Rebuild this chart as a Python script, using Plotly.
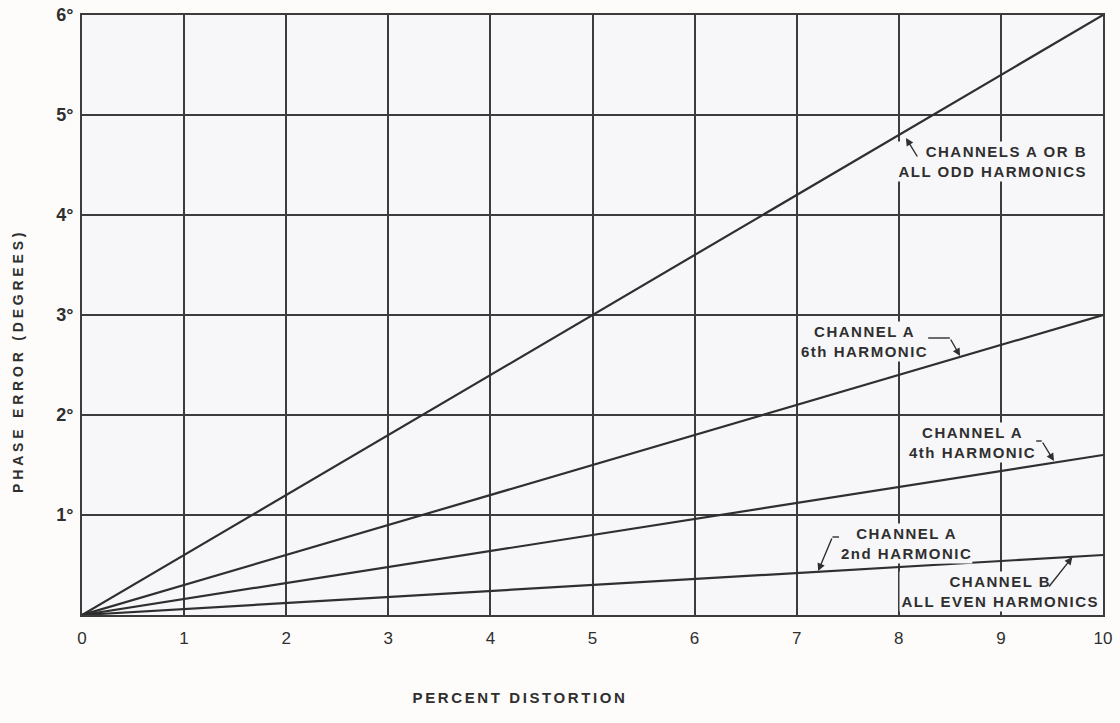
import json
import plotly.graph_objects as go

# Percent distortion (x) and phase error in degrees (y), straight lines from the origin
distortion = [0, 10]
odd_harmonics = [0, 6.0]      # channels A or B, all odd harmonics
ch_a_6th = [0, 3.0]           # channel A, 6th harmonic
ch_a_4th = [0, 1.6]           # channel A, 4th harmonic
ch_a_2nd_b_even = [0, 0.6]    # channel A 2nd harmonic / channel B all even harmonics

x_ticks = list(range(0, 11))
y_ticks = [1, 2, 3, 4, 5, 6]
y_tick_text = ["1°", "2°", "3°", "4°", "5°", "6°"]

INK = "#2f2f2f"
GRID = "#3c3c3c"
PLOT_BG = "#f7f7f9"
PAPER_BG = "#fdfcfa"
FONT = "Liberation Sans, Arial, sans-serif"

fig = go.Figure()
for ys in (odd_harmonics, ch_a_6th, ch_a_4th, ch_a_2nd_b_even):
    fig.add_trace(go.Scatter(x=distortion, y=ys, mode="lines",
                             line=dict(color=INK, width=2.2),
                             hoverinfo="skip", showlegend=False))

label_font = dict(family=FONT, size=15, color=INK, weight="bold")

# text labels (x, y in data units, anchor, alignment)
labels = [
    ("CHANNELS A OR B<br>ALL ODD HARMONICS", 9.86, 4.54, "right", "right"),
    ("CHANNEL A<br>6th HARMONIC", 7.66, 2.74, "center", "center"),
    ("CHANNEL A<br>4th HARMONIC", 8.72, 1.73, "center", "center"),
    ("CHANNEL A<br>2nd HARMONIC", 8.08, 0.72, "center", "center"),
    ("CHANNEL B<br>ALL EVEN HARMONICS", 9.0, 0.24, "center", "center"),
]
for text, x, y, xanchor, align in labels:
    fig.add_annotation(x=x, y=y, text=text, showarrow=False, xanchor=xanchor,
                       yanchor="middle", align=align, font=label_font,
                       bgcolor=PLOT_BG, borderpad=1)

# leader arrows: tail (ax, ay) -> head (x, y) on the curve
leaders = [
    (8.19, 4.57, 8.07, 4.77),
    (8.50, 2.77, 8.60, 2.59),
    (9.40, 1.74, 9.52, 1.54),
    (7.35, 0.78, 7.21, 0.44),
    (9.46, 0.27, 9.70, 0.58),
]
for ax, ay, x, y in leaders:
    fig.add_annotation(x=x, y=y, ax=ax, ay=ay, axref="x", ayref="y", text="",
                       showarrow=True, arrowhead=2, arrowsize=1.1, arrowwidth=1.4,
                       arrowcolor=INK, standoff=0, startstandoff=0)

# short horizontal runs of the bent leaders
for x0, x1, y in [(8.24, 8.50, 2.77), (9.27, 9.40, 1.74), (7.35, 7.58, 0.78)]:
    fig.add_shape(type="line", x0=x0, x1=x1, y0=y, y1=y,
                  line=dict(color=INK, width=1.4))

# axis titles
fig.add_annotation(text="PHASE ERROR (DEGREES)", xref="paper", yref="paper",
                   x=-0.0627, y=0.4233, textangle=-90, showarrow=False,
                   xanchor="center", yanchor="middle",
                   font=dict(family=FONT, size=14, color=INK, weight="bold"))
fig.add_annotation(text="PERCENT DISTORTION", xref="paper", yref="paper",
                   x=0.429, y=-0.138, showarrow=False,
                   xanchor="center", yanchor="middle",
                   font=dict(family=FONT, size=15, color=INK, weight="bold"))

fig.update_xaxes(range=[0, 10], tickvals=x_ticks, showgrid=True, gridcolor=GRID,
                 gridwidth=2, zeroline=False, showline=True, mirror=True,
                 linecolor=GRID, linewidth=2, ticks="", ticklabelstandoff=7,
                 automargin=False,
                 tickfont=dict(family=FONT, size=17, color=INK))
fig.update_yaxes(range=[0, 6], tickvals=y_ticks, ticktext=y_tick_text,
                 showgrid=True, gridcolor=GRID, gridwidth=2, zeroline=False,
                 showline=True, mirror=True, linecolor=GRID, linewidth=2,
                 ticks="", ticklabelstandoff=3, automargin=False,
                 tickfont=dict(family=FONT, size=18, color=INK, weight="bold"))

fig.update_layout(width=1120, height=723, autosize=False,
                  margin=dict(l=82, r=17, t=15, b=108, autoexpand=False),
                  plot_bgcolor=PLOT_BG, paper_bgcolor=PAPER_BG,
                  showlegend=False)

# widen the tracking of the lettering and refit the label backgrounds
spacing = {"PHASE ERROR (DEGREES)": 3.8, "PERCENT DISTORTION": 2.6}
post = """
var spacing = %s;
document.querySelectorAll('g.annotation').forEach(function(g){
  var t = g.querySelector('text.annotation-text');
  if(!t || !t.textContent) return;
  var key = t.getAttribute('data-unformatted') || '';
  var ls = (key in spacing) ? spacing[key] : 1.5;
  t.style.letterSpacing = ls + 'px';
  var r = g.querySelector('rect.bg');
  if(r){
    var bb = t.getBBox();
    r.setAttribute('x', bb.x - 2);
    r.setAttribute('width', bb.width + 2);
  }
});
""" % json.dumps(spacing)

fig.write_html("out.html", post_script=post)
